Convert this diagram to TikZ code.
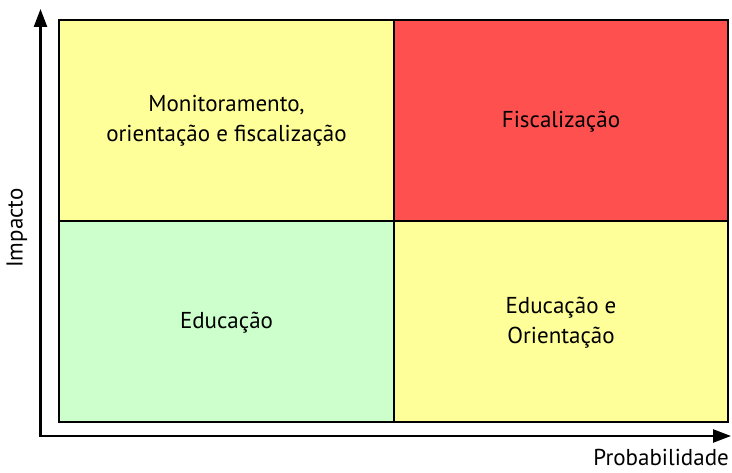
\documentclass[tikz,border=0pt]{standalone}
\usepackage{fontspec}
\setmainfont{PT Sans}
\usetikzlibrary{arrows.meta}
\definecolor{cyellow}{HTML}{FFFF99}
\definecolor{cred}{HTML}{FF5050}
\definecolor{cgreen}{HTML}{CCFFCC}
\begin{document}
\begin{tikzpicture}[x=1pt,y=-1pt,
  cell/.style={draw=black,line width=1.6pt,inner sep=0pt,outer sep=0pt},
  celltext/.style={align=center,font=\fontsize{23}{30}\selectfont},
  axis/.style={line width=2.4pt,-{Triangle[length=18pt,width=13pt]}},
  axislabel/.style={font=\fontsize{23}{26}\selectfont,inner sep=0pt}]
\useasboundingbox (0,0) rectangle (732,473);
\fill[cyellow] (59,20) rectangle (394,221);
\fill[cred] (394,20) rectangle (728,221);
\fill[cgreen] (59,221) rectangle (394,422);
\fill[cyellow] (394,221) rectangle (728,422);
\draw[cell] (59,20) rectangle (728,422);
\draw[cell] (394,20) -- (394,422);
\draw[cell] (59,221) -- (728,221);
\coordinate (o) at (40.5,436);
\coordinate (ytip) at (40.5,9);
\coordinate (xtip) at (731,436);
\draw[axis] (40.5,437.2) -- (ytip);
\draw[axis] (39.3,436) -- (xtip);
\node[celltext] (a) at (226.5,121) {Monitoramento,\\orientação e fiscalização};
\node[celltext] (b) at (561,122) {Fiscalização};
\node[celltext] (c) at (226.5,323) {Educação};
\node[celltext] (d) at (561,323) {Educação e\\Orientação};
\node[axislabel,rotate=90] (yl) at (17,228) {Impacto};
\node[axislabel,anchor=base east] (xl) at (729,466) {Probabilidade};
\end{tikzpicture}
\end{document}
